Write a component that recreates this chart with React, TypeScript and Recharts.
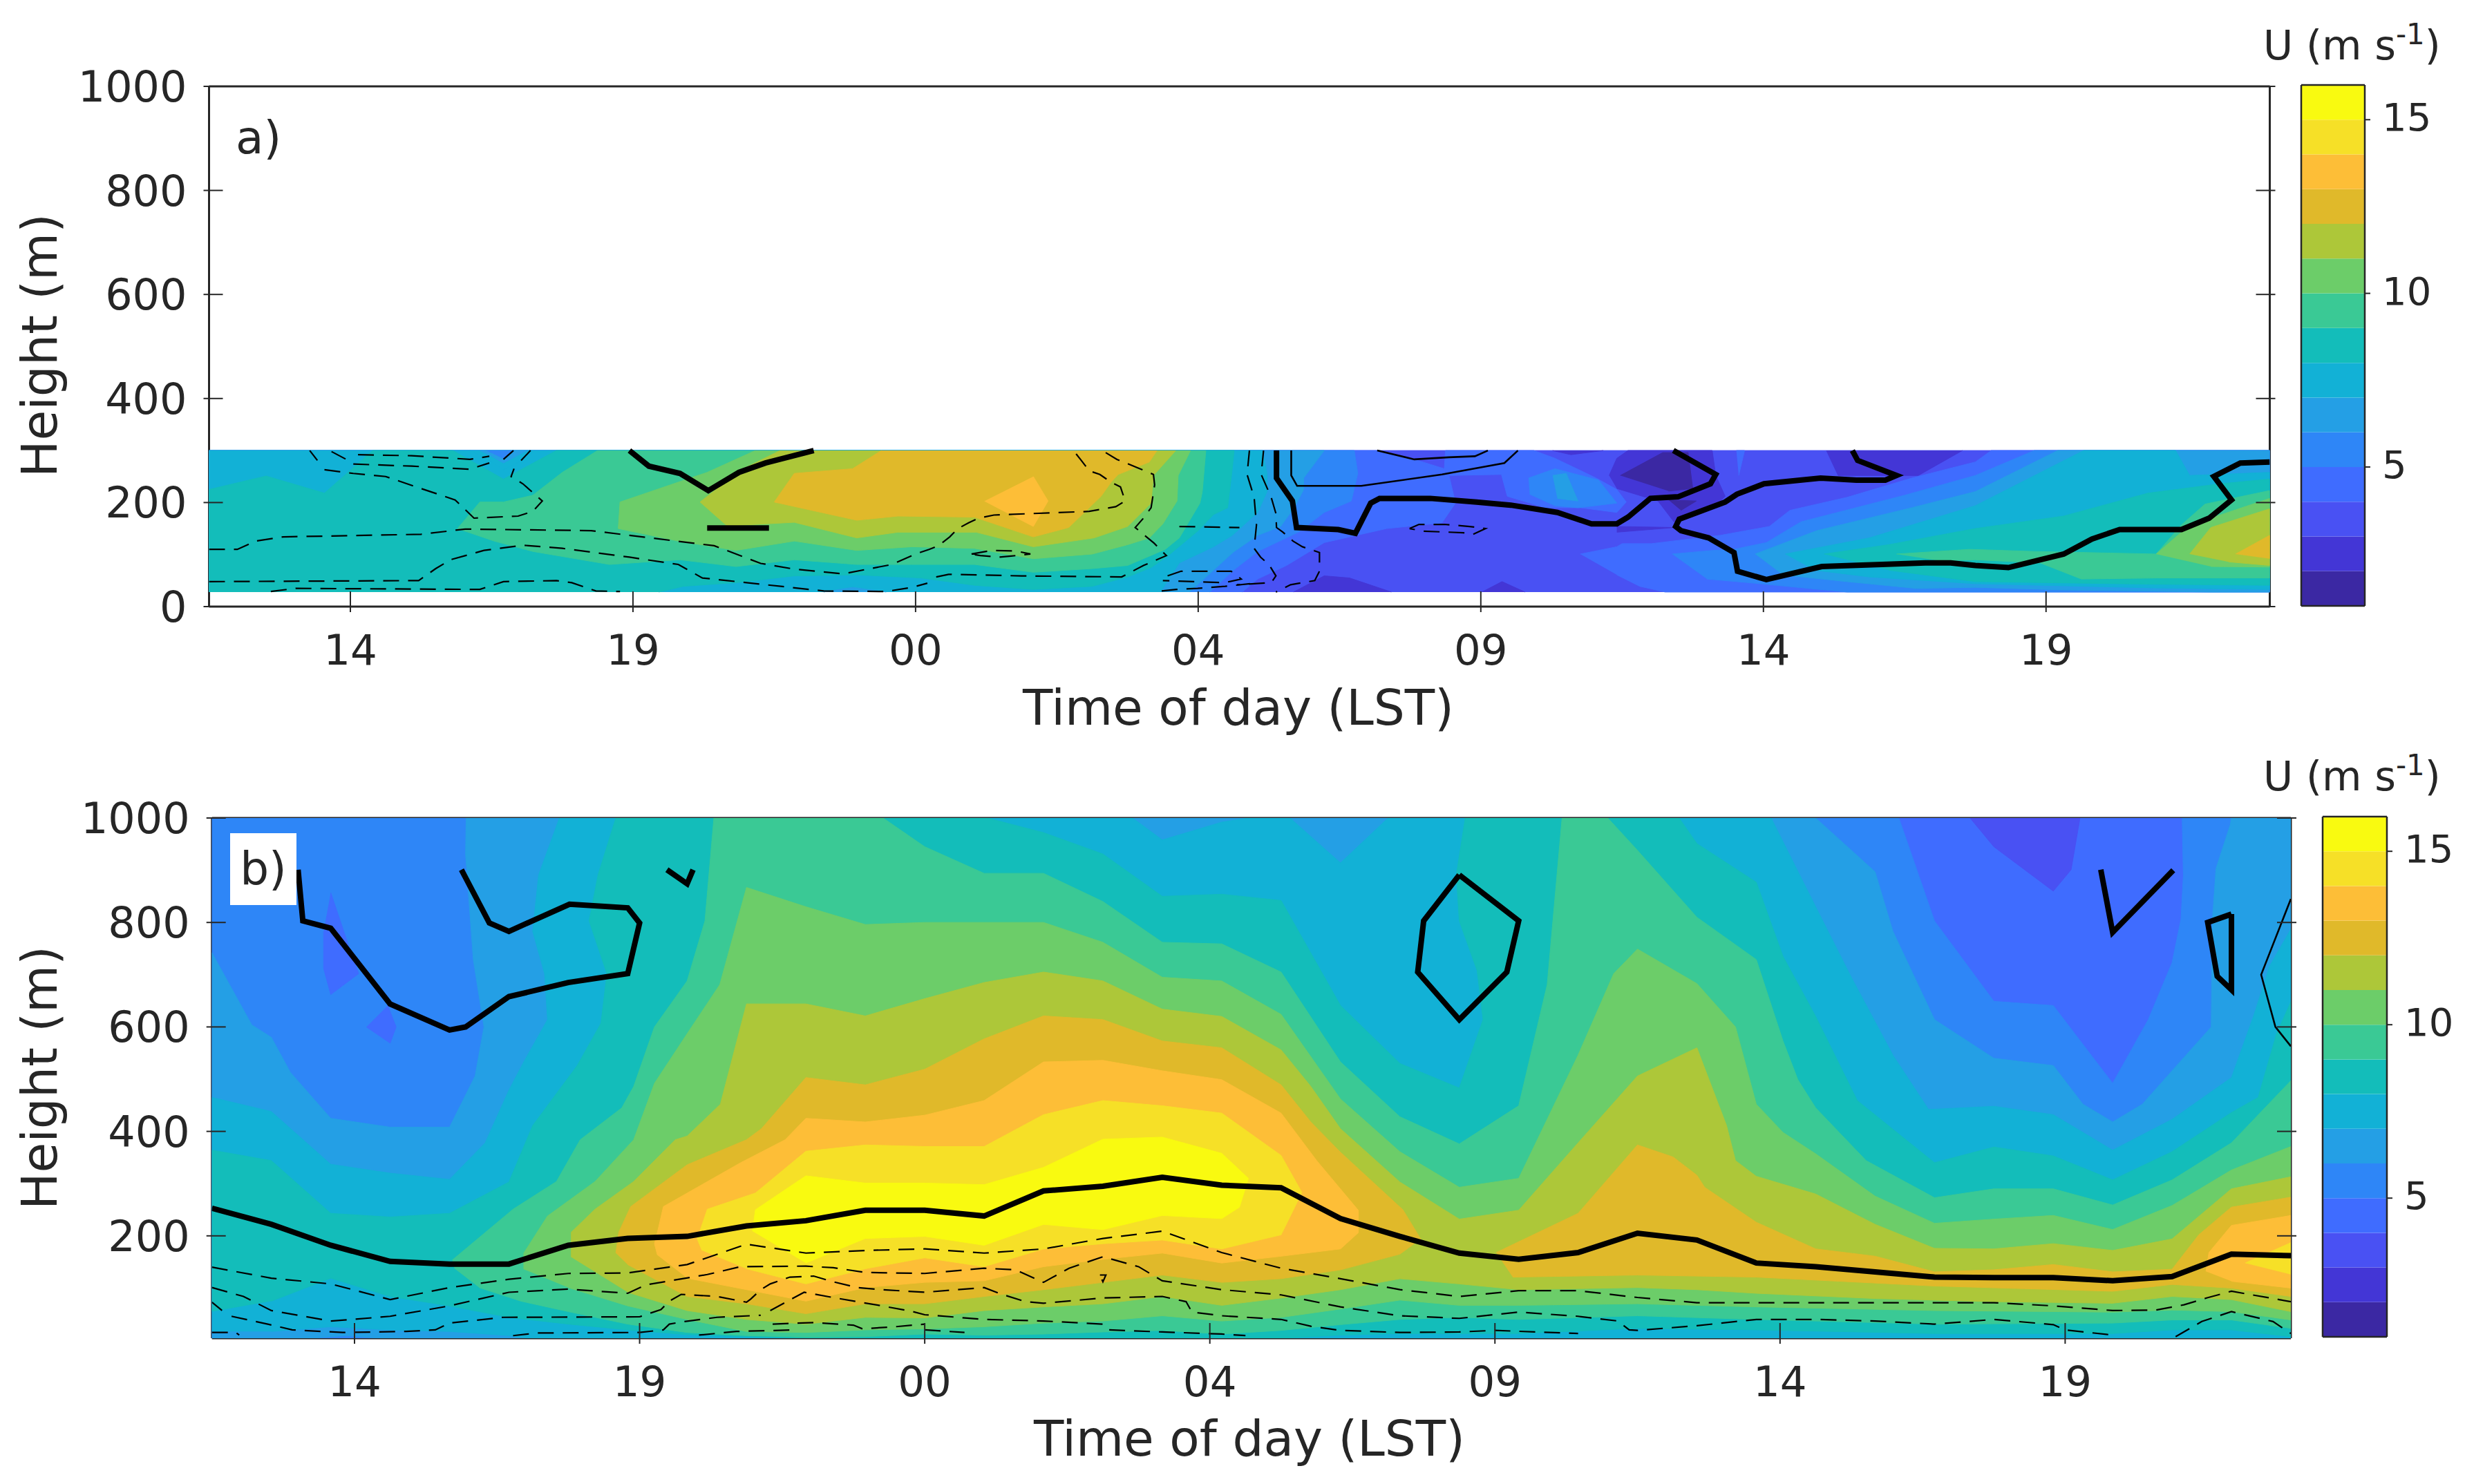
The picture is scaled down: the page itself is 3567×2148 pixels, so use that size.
import React from 'react';
import { ScatterChart, Scatter, XAxis, YAxis, BarChart, Bar } from 'recharts';

type Pt = [number, number];
const COLORS: Record<number, string> = { 1: '#3b28a3', 2: '#4336d6', 3: '#4951f3', 4: '#3f6cff', 5: '#2e86f7', 6: '#249fe5', 7: '#12b1d6', 8: '#13bdba', 9: '#3ac995', 10: '#6ccd69', 11: '#adc739', 12: '#e0b92a', 13: '#fdbe37', 14: '#f6e027', 15: '#f9fa10' };
const TIME_TICKS = [2.4, 7.2, 12, 16.8, 21.6, 26.4, 31.2];
const TIME_LABELS = ['14', '19', '00', '04', '09', '14', '19'];
const A_HEIGHT_TICKS = [0, 200, 400, 600, 800, 1000];
const B_HEIGHT_TICKS = [200, 400, 600, 800, 1000];
const CB_TICKS = [5, 10, 15];
const CB_LEVELS = [2, 3, 4, 5, 6, 7, 8, 9, 10, 11, 12, 13, 14, 15];

/* ---------- panel b: regions U >= level ---------- */
const B4: Pt[] = [[0, 4], [0, 1000], [35, 1000], [35, 4]];
const B5: Pt[] = [[0, 4], [0, 1000], [28.4, 1000], [29, 803], [30, 649], [31, 641], [32, 492], [32.6, 614], [33, 723], [33.15, 806], [33.19, 890], [33.17, 1000], [35, 1000], [35, 4]];
const B6: Pt[] = [[0, 4], [0, 742], [.67, 604], [1, 580], [1.32, 513], [2, 425], [3, 408], [4, 408], [4.43, 506], [4.58, 600], [4.4, 729], [4.27, 931], [4.28, 1000], [27, 1000], [28, 897], [28.3, 783], [29, 614], [30, 540], [31, 526], [31.5, 452], [32, 418], [32.5, 452], [33, 516], [33.66, 600], [33.68, 806], [33.74, 903], [33.98, 987], [34, 1000], [35, 1000], [35, 4], [2.82, 4], [2.25, 9], [1.68, 4]];
const B7: Pt[] = [[0, 17], [0, 465], [1, 438], [2, 337], [3, 320], [4, 308], [4.6, 378], [5, 479], [5.25, 533], [5.65, 614], [5.6, 702], [5.4, 783], [5.5, 891], [5.85, 1000], [15.5, 1000], [16, 958], [17, 992], [17.45, 1000], [18.15, 1000], [19, 914], [19.8, 1000], [26.25, 1000], [27, 830], [27.6, 695], [28.3, 546], [28.9, 442], [30, 448], [31, 432], [32, 364], [33, 423], [34, 503], [34.37, 620], [34.64, 716], [35, 787], [35, 4], [5.3, 4], [5, 9], [4, 17], [3, 20], [2, 26], [1, 17]];
const B8: Pt[] = [[0, 55], [0, 364], [1, 344], [2, 243], [3, 236], [4, 243], [5, 303], [5.4, 411], [6.15, 526], [6.55, 607], [6.65, 702], [6.35, 803], [6.5, 891], [6.8, 1000], [13.05, 1000], [14, 972], [15, 931], [16, 850], [17, 854], [18, 842], [19, 641], [20, 530], [21, 483], [21.4, 614], [21.3, 708], [21, 803], [20.95, 891], [21.1, 1000], [24.7, 1000], [25, 951], [26, 877], [26.45, 735], [27, 620], [27.7, 459], [29, 340], [30, 370], [31, 353], [32, 307], [33, 361], [34, 436], [34.45, 465], [34.76, 587], [35, 648], [35, 7], [34, 20], [33, 20], [32, 13], [29, 13], [26, 20], [24, 23], [22, 13], [20, 13], [19, 10], [18, 4], [10, 4], [9, 7], [8, 11], [7, 20], [6, 31], [5, 44], [4, 66], [3, 84], [2, 119], [1, 75]];
const B9: Pt[] = [[4.09, 137], [4.05, 154], [5.07, 251], [5.8, 304], [6.2, 384], [6.9, 445], [7.1, 486], [7.45, 600], [8, 688], [8.3, 803], [8.45, 1000], [11.3, 1000], [12, 945], [13, 894], [14, 894], [15, 840], [16, 762], [17, 759], [18, 705], [19, 533], [20, 428], [21, 376], [22, 449], [22.48, 681], [22.73, 1000], [23.5, 1000], [24, 938], [25, 810], [26, 729], [26.45, 573], [26.7, 499], [27, 445], [27.85, 344], [29, 273], [30, 290], [31, 290], [32, 259], [33, 307], [34, 378], [35, 497], [35, 23], [34, 39], [33, 39], [32, 33], [29, 31], [26, 40], [24, 47], [22, 40], [21, 44], [20, 40], [19, 30], [18, 19], [17, 12], [16, 19], [15, 16], [14, 12], [13, 10], [12, 12], [11, 7], [10, 6], [9, 9], [8, 15], [7, 31], [6, 55], [5.2, 75], [4.5, 101]];
const B10: Pt[] = [[5.25, 136], [5.25, 167], [5.65, 238], [6.45, 304], [7.1, 384], [7.45, 492], [8, 587], [8.55, 681], [9, 867], [10, 830], [11, 796], [12, 800], [13, 800], [14, 800], [15, 762], [16, 695], [17, 688], [18, 624], [19, 462], [20, 361], [21, 293], [22, 310], [23, 546], [23.6, 702], [24, 749], [25, 683], [25.65, 600], [26, 452], [26.45, 398], [27, 357], [28, 276], [29, 224], [30, 232], [31, 239], [32, 212], [33, 258], [34, 326], [35, 371], [35, 39], [34, 55], [33, 58], [32, 54], [29, 57], [26, 64], [24, 70], [22, 67], [21, 67], [20, 77], [19, 60], [18, 44], [17, 37], [16, 47], [15, 37], [14, 33], [13, 26], [12, 22], [11, 20], [10, 15], [9, 17], [8, 40], [7, 66], [6, 101]];
const B11: Pt[] = [[6.05, 159], [6.05, 207], [6.45, 251], [7.1, 304], [7.8, 384], [8, 391], [8.56, 452], [9, 644], [10, 644], [11, 621], [12, 654], [13, 685], [14, 705], [15, 688], [16, 634], [17, 620], [18, 556], [18.5, 486], [19, 405], [20, 303], [21, 232], [22, 249], [23, 378], [24, 506], [25, 560], [25.5, 411], [25.65, 344], [26, 314], [27, 280], [28, 222], [29, 176], [30, 175], [31, 185], [32, 172], [33, 194], [34, 290], [35, 313], [35, 55], [34, 78], [33, 84], [32, 71], [30, 74], [28, 80], [26, 90], [25, 97], [24, 101], [22, 97], [21, 108], [20, 118], [19, 97], [18, 81], [17, 67], [16, 84], [15, 70], [14, 64], [13, 57], [12, 43], [11, 44], [10, 31], [9, 40], [8, 57], [7, 92]];
const B12L: Pt[] = [[6.8, 167], [6.85, 207], [7.05, 256], [8, 336], [9, 384], [9.25, 405], [10, 503], [11, 489], [12, 519], [13, 577], [14, 621], [15, 614], [16, 573], [17, 560], [18, 489], [18.5, 418], [19, 360], [20.05, 250], [20.35, 194], [20, 165], [19, 135], [18, 118], [17, 111], [16, 125], [15, 111], [14, 97], [13, 84], [12, 70], [11, 70], [10, 51], [9, 70], [8, 84], [7, 145]];
const B12R: Pt[] = [[21.62, 168], [23, 243], [24, 374], [24.6, 351], [25, 316], [25.13, 293], [26, 226], [27, 175], [28, 161], [29, 131], [30, 135], [31, 145], [32, 131], [33, 136], [33.45, 202], [34, 255], [35, 274], [35, 84], [34, 100], [33, 107], [32, 94], [29, 104], [26, 121], [24, 125], [21.9, 121]];
const B13L: Pt[] = [[7.5, 163], [7.45, 185], [7.5, 207], [7.6, 256], [8.9, 340], [9.65, 384], [10, 425], [11, 418], [12, 431], [13, 459], [14, 533], [15, 536], [16, 516], [17, 499], [18, 435], [18.6, 344], [19.3, 249], [19.3, 206], [19, 175], [18, 161], [17, 148], [16, 167], [15, 155], [14, 141], [13, 114], [12, 111], [11, 101], [10, 75], [9, 97], [8, 119]];
const B13R: Pt[] = [[33.57, 132], [33.62, 168], [34, 220], [35, 239], [35, 100], [34, 113]];
const B14L: Pt[] = [[8.25, 172], [8.17, 194], [8.34, 251], [9.15, 282], [10, 362], [11, 374], [12, 371], [13, 371], [14, 432], [15, 459], [16, 449], [17, 435], [18, 354], [18.35, 283], [18, 202], [17, 175], [16, 192], [15, 185], [14, 175], [13, 141], [12, 158], [11, 137], [10, 108], [9, 137]];
const B14R: Pt[] = [[34.23, 148], [35, 187], [35, 126]];
const B15: Pt[] = [[9.1, 209], [9.15, 250], [10, 315], [11, 301], [12, 301], [13, 298], [14, 331], [15, 385], [16, 389], [17, 358], [17.45, 310], [17.3, 255], [17, 233], [16, 239], [15, 212], [14, 222], [13, 182], [12, 199], [11, 195], [10, 148]];
const BLOW3: Pt[] = [[29.6, 1000], [30, 945], [31, 860], [31.3, 901], [31.45, 1000]];
const BLOW4A: Pt[] = [[2, 857], [2.3, 756], [2.47, 702], [2, 662], [1.88, 712], [1.88, 783]];
const BLOW4B: Pt[] = [[2.96, 641], [3.1, 600], [3, 569], [2.6, 600]];
const B_LAYERS: [Pt[], number][] = [[B4, 4], [B5, 5], [B6, 6], [B7, 7], [B8, 8], [B9, 9], [B10, 10], [B11, 11], [B12L, 12], [B12R, 12], [B13L, 13], [B13R, 13], [B14L, 14], [B14R, 14], [B15, 15], [BLOW3, 3], [BLOW4A, 4], [BLOW4B, 4]];

const B_THICK1: Pt[] = [[0, 253], [1, 222], [2, 182], [3, 151], [4, 146], [5, 146], [6, 182], [7, 195], [8, 199], [9, 219], [10, 229], [11, 249], [12, 249], [13, 238], [14, 286], [15, 295], [16, 312], [17, 297], [18, 292], [19, 233], [20, 199], [21, 167], [22, 155], [23, 168], [24, 205], [25, 192], [26, 148], [27, 141], [28, 131], [29, 121], [30, 120], [31, 120], [32, 114], [33, 122], [34, 165], [35, 162]];
const B_THICK2: Pt[] = [[1.45, 901], [1.53, 803], [2, 789], [3, 644], [4, 594], [4.27, 600], [5, 658], [6, 685], [7, 702], [7.2, 799], [7, 828], [6.02, 835], [5, 783], [4.67, 799], [4.2, 901]];
const B_THICK3: Pt[] = [[7.66, 901], [8, 874], [8.1, 901]];
const B_THICK4: Pt[] = [[21, 891], [22, 803], [21.8, 705], [21, 614], [20.3, 705], [20.4, 803], [21, 891]];
const B_THICK5: Pt[] = [[31.8, 901], [32, 781], [33.02, 900]];
const B_THICK6: Pt[] = [[34, 816], [33.6, 800], [33.76, 697], [34, 671], [34, 816]];
const B_THIN1: Pt[] = [[35, 845], [34.5, 700], [34.74, 600], [35, 563]];
const B_DASH1: Pt[] = [[0, 140], [1, 119], [2, 108], [2.37, 97], [3, 78], [4, 101], [5, 117], [6, 128], [7, 129], [8, 145], [9, 184], [10, 167], [11, 172], [12, 175], [13, 167], [14, 175], [15, 195], [16, 209], [17, 168], [18, 138], [19, 118], [20, 97], [21, 84], [22, 95], [23, 95], [24, 82], [25, 72], [26, 72], [27, 72], [28, 72], [29, 72], [30, 72], [31, 66], [32, 57], [32.73, 58], [33.2, 68], [33.58, 81], [34, 94], [34.8, 78], [35, 74]];
const B_DASH2: Pt[] = [[0, 101], [.53, 84], [1, 57], [2, 37], [2.37, 40], [3, 46], [4, 66], [5, 92], [6, 98], [7, 90], [7.3, 106], [8.34, 126], [8.9, 141], [10, 142], [10.46, 139], [11, 130], [12, 128], [13, 138], [13.53, 135], [14, 111], [14.43, 138], [15, 160], [15.6, 141], [16, 114], [17, 97], [18, 87], [19, 64], [20, 47], [21, 42], [22, 54], [23, 46], [23.67, 37], [23.86, 20], [24, 19], [25, 28], [26, 40], [27, 40], [28, 37], [29, 31], [30, 40], [31, 30], [31.2, 20], [32, 10]];
const B_DASH2B: Pt[] = [[33.06, 7], [33.5, 36], [34, 55], [34.7, 36], [35, 13]];
const B_DASH3: Pt[] = [[.33, 46], [.94, 31], [1.35, 20], [2.2, 15], [3.27, 17], [3.76, 20], [4, 33], [4.9, 44], [7.2, 45], [7.56, 59], [7.7, 75], [7.9, 88], [8.5, 84], [9, 73], [9.07, 79], [9.24, 97], [9.4, 108], [9.73, 121], [10.13, 123], [10.46, 112], [10.87, 101], [11.28, 97], [12, 92], [13, 101], [13.3, 88], [13.7, 74], [14, 71], [15, 81], [16, 84], [16.4, 74], [16.5, 54], [17, 47], [18, 40], [18.5, 27], [19, 19], [20, 15], [21, 16], [21.6, 19], [23, 13]];
const B_DASH4: Pt[] = [[5.07, 9], [5.48, 14], [7.2, 15], [7.6, 20], [7.7, 31], [7.9, 35], [8.5, 44], [9.24, 48]];
const B_DASH5: Pt[] = [[9.44, 31], [10.13, 34], [10.8, 29], [10.95, 22], [11.5, 26], [12, 31]];
const B_DASH6: Pt[] = [[9.4, 57], [9.97, 92], [10.5, 81], [11.28, 66], [11.8, 55], [12, 49], [13, 40], [14, 37], [15, 31], [15.1, 20], [16, 16], [17, 12], [17.4, 9]];
const B_DASH7: Pt[] = [[8.2, 10], [8.83, 17], [9.85, 20]];
const B_DASH8: Pt[] = [[12, 20], [12.67, 15]];
const B_DASH9: Pt[] = [[0, 73], [.17, 57]];
const B_DASH10: Pt[] = [[0, 15], [.4, 15], [.46, 10]];
const B_DASH11: Pt[] = [[14.95, 125], [15.05, 125], [15, 112], [14.95, 125]];

/* ---------- panel a: regions U >= level ---------- */
const A3: Pt[] = [[0, 28], [0, 300], [35, 300], [35, 28]];
const A4L: Pt[] = [[0, 28], [0, 300], [19.84, 300], [20.47, 283], [20.98, 265], [21, 300], [22.5, 300], [22.86, 285], [23.56, 247], [23.91, 225], [24.07, 201], [23.91, 181], [23.3, 190], [22.7, 190], [22.05, 212], [21.95, 254], [21.06, 252], [21.17, 199], [20.94, 161], [20, 150], [18.94, 123], [18.3, 79], [17.81, 53], [17.55, 28]];
const A4R: Pt[] = [[23.29, 101], [23.91, 115], [24, 121], [24.5, 121], [25.67, 137], [26.5, 154], [26.85, 185], [27.82, 210], [28.92, 247], [30, 278], [30.27, 300], [35, 300], [35, 28], [24.73, 28], [24.3, 39], [23.91, 61]];
const A5L: Pt[] = [[0, 28], [0, 300], [19.45, 300], [19.51, 256], [19.4, 203], [18.94, 181], [18.5, 143], [17.81, 106], [17.4, 70], [17, 28]];
const A5R: Pt[] = [[24.85, 101], [25.55, 108], [25.9, 110], [26.45, 123], [27.04, 163], [28.8, 214], [30, 252], [31, 300], [35, 300], [35, 28], [27.82, 28], [26.25, 45], [25.44, 53]];
const A5P: Pt[] = [[22.41, 247], [22.86, 265], [23.6, 243], [23.91, 199], [23.25, 190], [22.86, 194], [22.43, 216]];
const A6L: Pt[] = [[0, 28], [0, 300], [18.94, 300], [18.59, 247], [18.59, 225], [18.44, 192], [18.2, 154], [17.81, 137], [17.4, 105], [16.65, 28]];
const A6R: Pt[] = [[26.26, 101], [27.31, 146], [28.92, 190], [30, 221], [31.4, 300], [35, 300], [35, 28], [34, 28], [31.5, 32], [30, 37], [29, 35], [27.82, 48], [26.73, 61]];
const A6P: Pt[] = [[22.82, 252], [23.05, 256], [23.25, 203], [22.9, 208]];
const A7L: Pt[] = [[0, 28], [0, 300], [17.89, 300], [17.97, 256], [17.97, 221], [17.81, 181], [17.38, 137], [17.06, 115], [16.48, 84], [16.16, 28]];
const A7R: Pt[] = [[26.77, 101], [28.2, 132], [30, 194], [31.84, 300], [33.4, 300], [33.64, 252], [35, 258], [35, 33], [33, 36], [30, 44], [28.2, 57], [27.27, 70]];
const A8L: Pt[] = [[0, 28], [0, 225], [.97, 251], [1.96, 218], [2.78, 300], [4.14, 300], [5, 245], [5.9, 300], [17.41, 300], [17.37, 256], [17.3, 190], [17.06, 177], [16.8, 146], [16.28, 97], [16, 75], [15.6, 57], [15, 39], [14, 33], [13, 41], [12.1, 55], [11, 61], [9.94, 59], [8.95, 46], [8.05, 39], [7.64, 28]];
const A8R: Pt[] = [[27.43, 101], [28.53, 119], [30, 150], [31.5, 174], [32.93, 218], [34.16, 236], [35, 245], [35, 41], [33, 43], [30, 48], [28.53, 70]];
const A9L: Pt[] = [[6.6, 300], [6, 258], [5.5, 214], [5, 201], [4.6, 201], [4.22, 150], [4.84, 126], [5.5, 106], [6.8, 81], [8, 90], [8.95, 77], [9.94, 90], [11, 81], [11.94, 81], [13, 81], [14, 66], [15, 73], [15.6, 79], [16.24, 110], [16.48, 132], [16.83, 199], [16.87, 221], [16.93, 300]];
const A9R: Pt[] = [[28.66, 101], [29.9, 110], [31, 106], [33.07, 101], [33.5, 157], [33.9, 197], [35, 223], [35, 55], [33.1, 55], [31.8, 53], [31.1, 84], [30, 90], [29.4, 88]];
const A10L: Pt[] = [[9.28, 300], [8.46, 258], [6.98, 201], [6.95, 150], [7.97, 126], [8.95, 108], [9.94, 126], [11, 108], [11.94, 115], [13, 112], [14, 92], [15, 101], [15.6, 119], [15.97, 132], [16.2, 159], [16.44, 203], [16.46, 252], [16.67, 300]];
const A10R: Pt[] = [[33.07, 101], [33.5, 143], [34, 170], [35, 208], [35, 76], [34, 77]];
const A11L: Pt[] = [[9.7, 300], [9.04, 263], [8.34, 201], [8.8, 155], [9.94, 162], [11, 132], [11.7, 143], [13.03, 143], [14, 115], [15.03, 132], [15.6, 154], [16, 199], [16.04, 252], [16.42, 300]];
const A11R: Pt[] = [[33.64, 101], [34, 152], [35, 188], [35, 79], [34.3, 86]];
const A12L: Pt[] = [[11.42, 300], [10.93, 265], [9.94, 256], [9.6, 201], [11, 166], [11.7, 174], [13, 172], [14, 134], [14.6, 152], [15.15, 212], [15.32, 239], [15.44, 254], [15.97, 278], [16.1, 300]];
const A12R: Pt[] = [[34.42, 101], [35, 137], [35, 92]];
const A13: Pt[] = [[14, 250], [14.25, 203], [14, 154], [13.17, 203]];
const ALOW7: Pt[] = [[10.44, 28], [10.93, 37], [11.5, 28]];
const ALOW6: Pt[] = [[4.43, 300], [4.68, 287], [5, 263], [5.41, 287], [5.53, 300]];
const ALOW5: Pt[] = [[4.6, 300], [4.8, 289], [5, 276], [5.3, 294], [5.41, 300]];
const ALOW4: Pt[] = [[4.72, 300], [5, 285], [5.17, 300]];
const ALOW2A: Pt[] = [[18.42, 28], [18.94, 59], [19.37, 55], [20.08, 28]];
const ALOW2B: Pt[] = [[21.62, 28], [21.96, 48], [22.35, 28]];
const ALOW2C: Pt[] = [[22.82, 300], [23.13, 292], [23.68, 300]];
const ALOW2D: Pt[] = [[23.78, 252], [23.91, 285], [24.1, 300], [25.53, 300], [25.59, 252], [25.75, 212], [25.59, 194], [25.26, 181], [24.88, 163], [24.61, 203], [23.91, 227]];
const ALOW2E: Pt[] = [[27.47, 300], [27.67, 252], [29.03, 252], [29.78, 300]];
const ALOW2F: Pt[] = [[23.91, 154], [24.9, 152], [23.91, 143]];
const ALOW4S: Pt[] = [[25.94, 300], [26.08, 300], [25.98, 252]];
const ALOW1A: Pt[] = [[23.97, 252], [24.69, 296], [25.12, 296], [25.2, 227], [24.79, 222]];
const ALOW1B: Pt[] = [[24.79, 205], [25.26, 203], [25, 185]];
const A_LAYERS: [Pt[], number][] = [[A3, 3], [A4L, 4], [A4R, 4], [A5L, 5], [A5R, 5], [A5P, 5], [A6L, 6], [A6R, 6], [A6P, 6], [A7L, 7], [A7R, 7], [A8L, 8], [A8R, 8], [A9L, 9], [A9R, 9], [A10L, 10], [A10R, 10], [A11L, 11], [A11R, 11], [A12L, 12], [A12R, 12], [A13, 13], [ALOW7, 6], [ALOW6, 7], [ALOW5, 6], [ALOW4, 5], [ALOW2A, 2], [ALOW2B, 2], [ALOW2C, 2], [ALOW2D, 2], [ALOW2E, 2], [ALOW2F, 2], [ALOW4S, 4], [ALOW1A, 1], [ALOW1B, 1]];

const A_THICK1: Pt[] = [[7.14, 300], [7.47, 270], [8, 256], [8.48, 223], [9, 258], [9.45, 276], [10.27, 300]];
const A_THICK2: Pt[] = [[8.46, 151], [9.51, 151]];
const A_THICK3: Pt[] = [[18.13, 300], [18.13, 247], [18.4, 203], [18.47, 152], [19.18, 148], [19.47, 141], [19.73, 199], [19.88, 208], [20.74, 208], [21.53, 201], [22.11, 195], [22.9, 181], [23.48, 159], [23.91, 159], [24.1, 172], [24.48, 208], [24.95, 211], [25.5, 236], [25.59, 254], [24.87, 300]];
const A_THICK4: Pt[] = [[27.91, 300], [28, 281], [28.66, 252], [28.47, 243], [27.98, 243], [27.37, 247], [26.41, 236], [25.95, 216], [25.75, 201], [24.97, 168], [24.91, 154], [25, 146], [25.47, 132], [25.9, 104], [25.96, 68], [26.45, 52], [27.39, 77], [28.41, 81], [29.15, 84], [29.58, 84], [30, 79], [30.56, 75], [31.5, 101], [31.98, 130], [32.45, 148], [33.5, 148], [33.97, 170], [34.35, 205], [34.05, 250], [34.5, 276], [35, 278]];
const A_THIN1: Pt[] = [[18.38, 300], [18.38, 252], [18.48, 232], [19.57, 232], [20.94, 254], [22, 276], [22.23, 300]];
const A_THIN2: Pt[] = [[19.84, 300], [20.47, 283], [21.06, 287], [21.5, 289], [21.72, 300]];
const A_DASH1: Pt[] = [[1.05, 29], [1.47, 35], [4.6, 33], [5, 48], [5.9, 50], [6.16, 46], [6.57, 30], [6.98, 29]];
const A_DASH2: Pt[] = [[0, 48], [3.56, 50], [3.85, 73], [4.1, 90], [4.67, 108], [5.33, 118], [6, 112], [7.14, 95], [7.97, 81], [8.38, 55], [8.8, 50], [10.44, 30], [11.5, 29], [11.94, 37], [12.2, 45]];
const A_DASH3: Pt[] = [[12.35, 57], [12.56, 62], [13.8, 59], [15.5, 57], [15.87, 79], [16.26, 98], [16.05, 122], [15.73, 152], [15.87, 170], [16, 190], [16.06, 234], [16.04, 254], [15.81, 265], [15.42, 283], [15.17, 300]];
const A_DASH4: Pt[] = [[0, 110], [.48, 110], [.8, 126], [1.26, 134], [3.6, 139], [4.35, 149], [6.49, 146], [7.14, 137], [8.58, 117], [9.37, 83], [9.94, 72], [10.77, 63], [11.6, 81], [12, 101], [12.23, 110], [12.39, 117], [12.58, 134], [12.72, 150], [12.9, 161], [13.07, 170], [13.33, 176], [14.95, 183], [15.4, 192], [15.56, 203], [15.48, 230], [15.32, 239], [15.13, 254], [14.95, 261], [14.8, 283], [14.68, 300]];
const A_DASH5: Pt[] = [[12.95, 101], [13.3, 108], [13.7, 107], [13.95, 101], [13.62, 97], [13.42, 95], [13.1, 98], [12.95, 101]];
const A_DASH6: Pt[] = [[16.48, 154], [17.5, 152]];
const A_DASH7: Pt[] = [[1.96, 263], [2.45, 256], [3, 250], [3.6, 227], [4.18, 205], [4.5, 170], [5.25, 174], [5.5, 183], [5.66, 203], [5.5, 219], [5.33, 236], [5.13, 250], [5.18, 265]];
const A_DASH8: Pt[] = [[2.53, 292], [3.44, 290], [4.43, 283], [4.76, 289]];
const A_DASH9: Pt[] = [[2.45, 274], [3.44, 270], [4.43, 264], [4.76, 276]];
const A_DASH10: Pt[] = [[1.71, 300], [1.84, 281]];
const A_DASH11: Pt[] = [[2.08, 298], [2.33, 283]];
const A_DASH12: Pt[] = [[5, 283], [5.17, 300]];
const A_DASH13: Pt[] = [[5.3, 281], [5.46, 300]];
const A_DASH14: Pt[] = [[17.67, 300], [17.63, 254], [17.75, 210], [17.79, 157], [17.75, 112], [17.86, 95], [18, 81], [18.12, 59], [18.04, 46], [17.46, 42]];
const A_DASH15: Pt[] = [[17.91, 300], [17.87, 254], [18.04, 210], [18.12, 179], [18.13, 152], [18.24, 143], [18.41, 126], [18.57, 115], [18.86, 104], [18.86, 68], [18.78, 50], [18.37, 42], [18.12, 28]];
const A_DASH16: Pt[] = [[16.28, 59], [16.51, 68], [17.36, 68], [17.53, 53], [17.25, 46], [16.2, 50]];
const A_DASH17: Pt[] = [[16.18, 30], [16.43, 33], [16.79, 35], [17.26, 39], [17.68, 44]];
const A_DASH18: Pt[] = [[20.39, 150], [20.55, 158], [20.98, 158], [21.41, 154], [21.68, 150], [21.47, 139], [21.3, 142], [20.63, 145], [20.39, 150]];

const B_THICK = [B_THICK1, B_THICK2, B_THICK3, B_THICK4, B_THICK5, B_THICK6];
const B_THIN = [B_THIN1];
const B_DASH = [B_DASH1, B_DASH2, B_DASH2B, B_DASH3, B_DASH4, B_DASH5, B_DASH6, B_DASH7, B_DASH8, B_DASH9, B_DASH10, B_DASH11];
const A_THICK = [A_THICK1, A_THICK2, A_THICK3, A_THICK4];
const A_THIN = [A_THIN1, A_THIN2];
const A_DASH = [A_DASH1, A_DASH2, A_DASH3, A_DASH4, A_DASH5, A_DASH6, A_DASH7, A_DASH8, A_DASH9, A_DASH10, A_DASH11, A_DASH12, A_DASH13, A_DASH14, A_DASH15, A_DASH16, A_DASH17, A_DASH18];

const INK = '#262626';
const FONT = '"DejaVu Sans", sans-serif';
const xy = (p: Pt[]) => p.map(([x, y]) => ({ x, y }));
const NoDot = () => null;

const BottomTick = (props: any) => (
  <g>
    <line x1={props.x} x2={props.x} y1={props.y} y2={props.y - 30} stroke={INK} strokeWidth={2} />
    <text x={props.x} y={props.y + 76} textAnchor="middle" fontSize={61} fontFamily={FONT} fill={INK}>{TIME_LABELS[props.index]}</text>
  </g>
);
const TopTick = (props: any) => <line x1={props.x} x2={props.x} y1={props.y} y2={props.y + 30} stroke={INK} strokeWidth={2} />;
const LeftTick = (props: any) => (
  <g>
    <line x1={props.x} x2={props.x + 28} y1={props.y} y2={props.y} stroke={INK} strokeWidth={2} />
    <text x={props.x - 24} y={props.y + 22} textAnchor="end" fontSize={62} fontFamily={FONT} fill={INK}>{props.payload.value}</text>
  </g>
);
const RightTick = (props: any) => <line x1={props.x} x2={props.x - 28} y1={props.y} y2={props.y} stroke={INK} strokeWidth={2} />;

type PanelProps = { top: number; height: number; margin: any; yDomain: number[]; yTicks: number[]; layers: [Pt[], number][]; thick: Pt[][]; thin: Pt[][]; dash: Pt[][]; xLabelX: number; xLabelY: number; yLabelY: number };

function Panel({ top, height, margin, yDomain, yTicks, layers, thick, thin, dash, xLabelX, xLabelY, yLabelY }: PanelProps) {
  const axisLine = { stroke: INK, strokeWidth: 3 };
  return (
    <div style={{ position: 'absolute', left: 0, top, width: 3567, height }}>
      <ScatterChart width={3567} height={height} margin={margin}>
        {layers.map(([pts, level], i) => (
          <Scatter key={'f' + i} data={xy(pts)} isAnimationActive={false} shape={NoDot} lineType="joint" lineJointType="linear" line={{ fill: COLORS[level], stroke: COLORS[level], strokeWidth: 1 }} />
        ))}
        {dash.map((pts, i) => (
          <Scatter key={'d' + i} data={xy(pts)} isAnimationActive={false} shape={NoDot} lineType="joint" lineJointType="linear" line={{ fill: 'none', stroke: '#000', strokeWidth: 2.2, strokeDasharray: '23 13' }} />
        ))}
        {thin.map((pts, i) => (
          <Scatter key={'n' + i} data={xy(pts)} isAnimationActive={false} shape={NoDot} lineType="joint" lineJointType="linear" line={{ fill: 'none', stroke: '#000', strokeWidth: 2.6 }} />
        ))}
        {thick.map((pts, i) => (
          <Scatter key={'k' + i} data={xy(pts)} isAnimationActive={false} shape={NoDot} lineType="joint" lineJointType="linear" line={{ fill: 'none', stroke: '#000', strokeWidth: 8 }} />
        ))}
        <XAxis type="number" dataKey="x" domain={[0, 35]} ticks={TIME_TICKS} height={1} tick={BottomTick} tickLine={false} axisLine={axisLine} allowDataOverflow interval={0} />
        <XAxis xAxisId="top" type="number" orientation="top" domain={[0, 35]} ticks={TIME_TICKS} height={1} tick={TopTick} tickLine={false} axisLine={axisLine} allowDataOverflow interval={0} />
        <YAxis type="number" dataKey="y" domain={yDomain} ticks={yTicks} width={1} tick={LeftTick} tickLine={false} axisLine={axisLine} allowDataOverflow interval={0} />
        <YAxis yAxisId="right" type="number" orientation="right" domain={yDomain} ticks={yTicks} width={1} tick={RightTick} tickLine={false} axisLine={axisLine} allowDataOverflow interval={0} />
        <text x={xLabelX} y={xLabelY} textAnchor="middle" fontSize={71} fontFamily={FONT} fill={INK}>Time of day (LST)</text>
        <text x={62} y={yLabelY} textAnchor="middle" fontSize={71} fontFamily={FONT} fill={INK} dominantBaseline="middle" transform={`rotate(-90 62 ${yLabelY})`}>Height (m)</text>
      </ScatterChart>
    </div>
  );
}

const cbRow: Record<string, any> = { name: 'U', b1: 2 };
CB_LEVELS.forEach((l) => { cbRow['b' + l] = 1; });
const CB_DATA = [cbRow];

const CbTick = (props: any) => (
  <g>
    <line x1={props.x} x2={props.x - 8} y1={props.y} y2={props.y} stroke={INK} strokeWidth={2} />
    <text x={props.x + 17} y={props.y + 16} textAnchor="start" fontSize={56} fontFamily={FONT} fill={INK}>{props.payload.value}</text>
  </g>
);

function ColorBar({ left, top, width, height, titleX, titleY }: { left: number; top: number; width: number; height: number; titleX: number; titleY: number }) {
  const axisLine = { stroke: INK, strokeWidth: 2.5 };
  const pad = 122;
  const padLeft = 100;
  const W = width + padLeft + 180;
  const H = height + pad + 10;
  return (
    <div style={{ position: 'absolute', left: left - padLeft, top: top - pad, width: W, height: H }}>
      <BarChart width={W} height={H} data={CB_DATA} margin={{ left: padLeft - 1, right: 179, top: pad - 1, bottom: 9 }} barCategoryGap={0} barGap={0}>
        <Bar dataKey="b1" stackId="c" fill={COLORS[1]} isAnimationActive={false} />
        {CB_LEVELS.map((l) => <Bar key={l} dataKey={'b' + l} stackId="c" fill={COLORS[l]} isAnimationActive={false} />)}
        <XAxis dataKey="name" height={1} tick={false} tickLine={false} axisLine={axisLine} />
        <XAxis xAxisId="top" orientation="top" dataKey="name" height={1} tick={false} tickLine={false} axisLine={axisLine} />
        <YAxis type="number" domain={[1, 16]} ticks={CB_TICKS} width={1} tick={false} tickLine={false} axisLine={axisLine} allowDataOverflow />
        <YAxis yAxisId="r" type="number" orientation="right" domain={[1, 16]} ticks={CB_TICKS} width={1} tick={CbTick} tickLine={false} axisLine={axisLine} allowDataOverflow interval={0} />
        <text x={titleX - left + padLeft} y={titleY - top + pad} fontSize={59} fontFamily={FONT} fill={INK}>U (m s<tspan dy={-22} fontSize={42}>-1</tspan><tspan dy={22}>)</tspan></text>
      </BarChart>
    </div>
  );
}

export default function App() {
  return (
    <div style={{ position: 'relative', width: 3567, height: 2148, margin: -8, background: '#fff', fontFamily: FONT }}>
      <Panel top={0} height={1100} margin={{ left: 301.5, right: 281.5, top: 124, bottom: 221 }} yDomain={[0, 1000]} yTicks={A_HEIGHT_TICKS} layers={A_LAYERS} thick={A_THICK} thin={A_THIN} dash={A_DASH} xLabelX={1792} xLabelY={1049} yLabelY={500} />
      <Panel top={1060} height={1088} margin={{ left: 305.7, right: 251, top: 123, bottom: 210 }} yDomain={[4, 1000]} yTicks={B_HEIGHT_TICKS} layers={B_LAYERS} thick={B_THICK} thin={B_THIN} dash={B_DASH} xLabelX={1808} xLabelY={1047} yLabelY={500} />
      <ColorBar left={3330} top={123} width={92} height={754} titleX={3275} titleY={86} />
      <ColorBar left={3361} top={1182} width={93} height={753} titleX={3275} titleY={1144} />
      <div style={{ position: 'absolute', left: 341, top: 160, fontSize: 66, color: INK, lineHeight: '80px' }}>a)</div>
      <div style={{ position: 'absolute', left: 333, top: 1206, width: 96, height: 104, background: '#fff', fontSize: 66, color: INK, lineHeight: '104px', textAlign: 'center' }}>b)</div>
    </div>
  );
}
